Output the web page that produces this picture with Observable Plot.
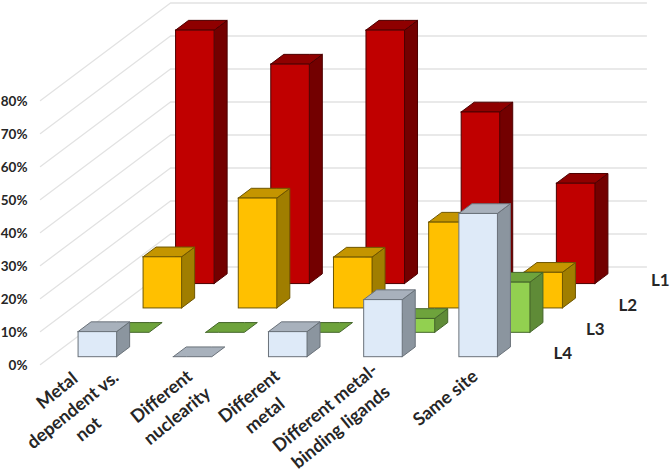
<!DOCTYPE html>
<html>
<head>
<meta charset="utf-8">
<script src="https://cdn.jsdelivr.net/npm/d3@7"></script>
<script src="https://cdn.jsdelivr.net/npm/@observablehq/plot@0.6"></script>
<style>
  html, body { margin: 0; padding: 0; background: #fff; }
  svg { display: block; }
</style>
</head>
<body>
<div id="chart"></div>
<script>
const categories = ["Metal\ndependent vs.\nnot", "Different\nnuclearity", "Different\nmetal", "Different metal-\nbinding ligands", "Same site"];
const seriesNames = ["L1", "L2", "L3", "L4"];
const L1 = [76.8, 66.5, 76.8, 52, 30.4];
const L2 = [15.5, 33.3, 15.4, 26, 10.8];
const L3 = [0, 0, 0, 4.2, 15.2];
const L4 = [7.6, 0, 7.6, 17.3, 43.4];
const valueTicks = [0, 10, 20, 30, 40, 50, 60, 70, 80];

// Oblique projection of (category, depth, value) into the plot's x and y units
const depthToX = 32.5 / 95.2, depthToY = 24.375 / 3.3;
const barWidth = 0.405, barDepth = 0.4;
const px = (c, d) => c + d * depthToX;
const py = (v, d) => v + d * depthToY;

// Placement of the rotated category labels, in plot units
const labelX = [0.325, 1.34, 2.26, 3.06, 4.24];
const labelY = [-13.3, -12.2, -12.1, -15.6, -9.7];

const palette = {
  L1: {front: "#C00000", top: "#8F0000", side: "#730000", line: "#4d0000"},
  L2: {front: "#FFC000", top: "#C49500", side: "#A07E00", line: "#6e5600"},
  L3: {front: "#92D050", top: "#6EA33C", side: "#5F8B37", line: "#44662a"},
  L4: {front: "#DEEAF8", top: "#A8B1BC", side: "#8B959F", line: "#6a727a"}
};
const values = {L1, L2, L3, L4};

const gridPoints = valueTicks.flatMap(t => [
  {t, x: px(0, 0), y: py(t, 0)},
  {t, x: px(0, 4), y: py(t, 4)},
  {t, x: px(5, 4), y: py(t, 4)}
]);

function barMarks(name, s) {
  const d0 = s + (1 - barDepth) / 2, d1 = d0 + barDepth;
  const bars = values[name].map((v, i) => {
    const c0 = i + (1 - barWidth) / 2, c1 = c0 + barWidth;
    return {i, v, c0, c1};
  });
  const sidePts = bars.filter(b => b.v > 0).flatMap(b => [
    {id: b.i, x: px(b.c1, d0), y1: py(0, d0), y2: py(b.v, d0)},
    {id: b.i, x: px(b.c1, d1), y1: py(0, d1), y2: py(b.v, d1)}
  ]);
  const topPts = bars.flatMap(b => [
    {id: b.i, x: px(b.c0, d0), y1: py(b.v, d0), y2: py(b.v, d0)},
    {id: b.i, x: px(b.c0, d1), y1: py(b.v, d0), y2: py(b.v, d1)},
    {id: b.i, x: px(b.c1, d0), y1: py(b.v, d0), y2: py(b.v, d1)},
    {id: b.i, x: px(b.c1, d1), y1: py(b.v, d1), y2: py(b.v, d1)}
  ]);
  const p = palette[name];
  return [
    Plot.areaY(sidePts, {x: "x", y1: "y1", y2: "y2", z: "id", fill: p.side, stroke: p.line, strokeWidth: 1}),
    Plot.areaY(topPts, {x: "x", y1: "y1", y2: "y2", z: "id", fill: p.top, stroke: p.line, strokeWidth: 1}),
    Plot.rect(bars.filter(b => b.v > 0), {
      x1: b => px(b.c0, d0), x2: b => px(b.c1, d0),
      y1: () => py(0, d0), y2: b => py(b.v, d0),
      fill: p.front, stroke: p.line, strokeWidth: 1
    })
  ];
}

const font = "Lato, 'Open Sans', sans-serif";

const chart = Plot.plot({
  width: 670,
  height: 471,
  marginLeft: 40,
  marginRight: 24,
  marginTop: 0,
  marginBottom: 0,
  style: {background: "#fff", fontFamily: font},
  x: {domain: [0, 606 / 95.2], axis: null},
  y: {domain: [-107 / 3.3, 364 / 3.3], axis: null},
  marks: [
    Plot.line(gridPoints, {x: "x", y: "y", z: "t", stroke: "#e2e2e2", strokeWidth: 1.3}),
    Plot.axisY({
      ticks: valueTicks,
      tickFormat: d => d + "%",
      tickSize: 0,
      tickPadding: 13,
      anchor: "left",
      label: null,
      dy: 1.5,
      fontSize: 13.5,
      fontWeight: 700,
      fill: "#262626"
    }),
    ...seriesNames.flatMap((n, i) => barMarks(n, 3 - i)),
    Plot.text(seriesNames, {
      x: (d, i) => px(5, 3.5 - i),
      y: (d, i) => py(0, 3.5 - i),
      text: d => d,
      dx: 30,
      dy: 1.5,
      fontSize: 17,
      fontWeight: 700,
      fill: "#262626"
    }),
    Plot.text(categories, {
      x: (d, i) => labelX[i],
      y: (d, i) => labelY[i],
      text: d => d,
      rotate: -39,
      lineHeight: 1.38,
      lineAnchor: "middle",
      textAnchor: "middle",
      fontSize: 18,
      fontWeight: 700,
      fill: "#262626"
    })
  ]
});
document.getElementById("chart").appendChild(chart);
</script>
</body>
</html>
